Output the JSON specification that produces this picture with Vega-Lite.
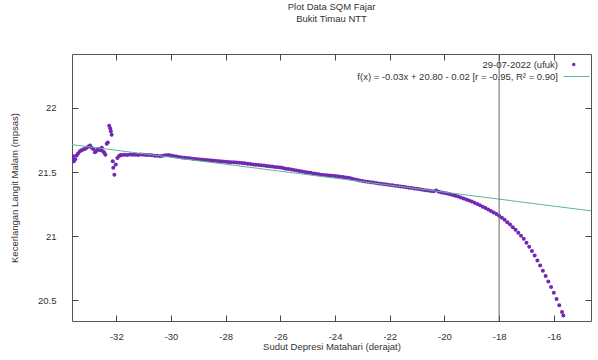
{
  "$schema": "https://vega.github.io/schema/vega-lite/v6.json",
  "width": 519,
  "height": 267,
  "autosize": {"type": "none"},
  "padding": {"left": 72, "top": 54, "right": 7, "bottom": 39},
  "background": "white",
  "title": {
    "text": ["Plot Data SQM Fajar", "Bukit Timau NTT"],
    "fontSize": 9.5, "fontWeight": "normal", "font": "Liberation Sans",
    "color": "#333333", "offset": 28, "lineHeight": 12, "anchor": "middle"
  },
  "config": {
    "view": {"stroke": "#555555", "strokeWidth": 1},
    "axis": {
      "grid": false, "domain": false, "ticks": true, "tickColor": "#444444", "tickSize": 6, "tickWidth": 1, "tickOpacity": 1, "offset": -6,
      "labelFont": "Liberation Sans", "labelFontSize": 9.5, "labelColor": "#333333",
      "titleFont": "Liberation Sans", "titleFontSize": 9.5, "titleFontWeight": "normal", "titleColor": "#333333",
      "zindex": 1
    },
    "legend": {
      "orient": "none", "padding": 0, "title": null,
      "labelFont": "Liberation Sans", "labelFontSize": 9.5, "labelColor": "#333333",
      "labelLimit": 400, "labelAlign": "right", "labelOffset": -32,
      "symbolSize": 676, "symbolStrokeWidth": 1, "rowPadding": 0
    }
  },
  "datasets": {
    "sqm": [
      {"x": -33.6, "y": 21.6}, {"x": -33.57, "y": 21.624}, {"x": -33.55, "y": 21.585}, {"x": -33.5, "y": 21.6},
      {"x": -33.45, "y": 21.63}, {"x": -33.4, "y": 21.645}, {"x": -33.33, "y": 21.663}, {"x": -33.27, "y": 21.67},
      {"x": -33.21, "y": 21.676}, {"x": -33.15, "y": 21.68}, {"x": -33.08, "y": 21.69}, {"x": -33.02, "y": 21.7},
      {"x": -32.96, "y": 21.707}, {"x": -32.9, "y": 21.69}, {"x": -32.84, "y": 21.68}, {"x": -32.78, "y": 21.655},
      {"x": -32.73, "y": 21.665}, {"x": -32.69, "y": 21.676}, {"x": -32.64, "y": 21.68}, {"x": -32.6, "y": 21.67},
      {"x": -32.56, "y": 21.68}, {"x": -32.53, "y": 21.69}, {"x": -32.48, "y": 21.66}, {"x": -32.44, "y": 21.65},
      {"x": -32.4, "y": 21.635}, {"x": -32.35, "y": 21.72}, {"x": -32.31, "y": 21.73}, {"x": -32.26, "y": 21.862},
      {"x": -32.22, "y": 21.84}, {"x": -32.2, "y": 21.818}, {"x": -32.17, "y": 21.79}, {"x": -32.13, "y": 21.585},
      {"x": -32.11, "y": 21.534}, {"x": -32.07, "y": 21.48}, {"x": -32.02, "y": 21.56}, {"x": -31.96, "y": 21.61},
      {"x": -31.9, "y": 21.625}, {"x": -31.86, "y": 21.632},
      {"x": -31.8, "y": 21.633}, {"x": -31.7, "y": 21.636}, {"x": -31.6, "y": 21.634}, {"x": -31.5, "y": 21.637},
      {"x": -31.4, "y": 21.635}, {"x": -31.3, "y": 21.636}, {"x": -31.2, "y": 21.634}, {"x": -31.1, "y": 21.637},
      {"x": -31.0, "y": 21.635}, {"x": -30.9, "y": 21.633}, {"x": -30.8, "y": 21.634}, {"x": -30.7, "y": 21.631},
      {"x": -30.6, "y": 21.628}, {"x": -30.5, "y": 21.627}, {"x": -30.4, "y": 21.624}, {"x": -30.3, "y": 21.628},
      {"x": -30.2, "y": 21.631}, {"x": -30.1, "y": 21.633}, {"x": -30.0, "y": 21.63}, {"x": -29.9, "y": 21.625},
      {"x": -29.8, "y": 21.621}, {"x": -29.7, "y": 21.617}, {"x": -29.6, "y": 21.614}, {"x": -29.5, "y": 21.612},
      {"x": -29.4, "y": 21.609}, {"x": -29.3, "y": 21.607}, {"x": -29.2, "y": 21.604}, {"x": -29.1, "y": 21.602},
      {"x": -29.0, "y": 21.6}, {"x": -28.9, "y": 21.598}, {"x": -28.8, "y": 21.597}, {"x": -28.7, "y": 21.594},
      {"x": -28.6, "y": 21.592}, {"x": -28.5, "y": 21.59}, {"x": -28.4, "y": 21.588}, {"x": -28.3, "y": 21.587},
      {"x": -28.2, "y": 21.584}, {"x": -28.1, "y": 21.582}, {"x": -28.0, "y": 21.58}, {"x": -27.9, "y": 21.578},
      {"x": -27.8, "y": 21.577}, {"x": -27.7, "y": 21.576}, {"x": -27.6, "y": 21.574}, {"x": -27.5, "y": 21.573},
      {"x": -27.4, "y": 21.57}, {"x": -27.3, "y": 21.568}, {"x": -27.2, "y": 21.565}, {"x": -27.1, "y": 21.563},
      {"x": -27.0, "y": 21.56}, {"x": -26.9, "y": 21.558}, {"x": -26.8, "y": 21.556}, {"x": -26.7, "y": 21.553},
      {"x": -26.6, "y": 21.551}, {"x": -26.5, "y": 21.548}, {"x": -26.4, "y": 21.546}, {"x": -26.3, "y": 21.543},
      {"x": -26.2, "y": 21.54}, {"x": -26.1, "y": 21.538}, {"x": -26.0, "y": 21.535}, {"x": -25.9, "y": 21.531},
      {"x": -25.8, "y": 21.527}, {"x": -25.7, "y": 21.524}, {"x": -25.6, "y": 21.52}, {"x": -25.5, "y": 21.516},
      {"x": -25.4, "y": 21.512}, {"x": -25.3, "y": 21.509}, {"x": -25.2, "y": 21.505}, {"x": -25.1, "y": 21.501},
      {"x": -25.0, "y": 21.497}, {"x": -24.9, "y": 21.494}, {"x": -24.8, "y": 21.49}, {"x": -24.7, "y": 21.487},
      {"x": -24.6, "y": 21.483}, {"x": -24.5, "y": 21.48}, {"x": -24.4, "y": 21.478}, {"x": -24.3, "y": 21.476},
      {"x": -24.2, "y": 21.474}, {"x": -24.1, "y": 21.472}, {"x": -24.0, "y": 21.47}, {"x": -23.9, "y": 21.467},
      {"x": -23.8, "y": 21.464}, {"x": -23.7, "y": 21.461}, {"x": -23.6, "y": 21.458}, {"x": -23.5, "y": 21.455},
      {"x": -23.4, "y": 21.45}, {"x": -23.3, "y": 21.445}, {"x": -23.2, "y": 21.44}, {"x": -23.1, "y": 21.435},
      {"x": -23.0, "y": 21.43}, {"x": -22.9, "y": 21.427}, {"x": -22.8, "y": 21.424}, {"x": -22.7, "y": 21.421},
      {"x": -22.6, "y": 21.418}, {"x": -22.5, "y": 21.415}, {"x": -22.4, "y": 21.412}, {"x": -22.3, "y": 21.409},
      {"x": -22.2, "y": 21.406}, {"x": -22.1, "y": 21.403}, {"x": -22.0, "y": 21.4}, {"x": -21.9, "y": 21.397},
      {"x": -21.8, "y": 21.394}, {"x": -21.7, "y": 21.391}, {"x": -21.6, "y": 21.388}, {"x": -21.5, "y": 21.385},
      {"x": -21.4, "y": 21.382}, {"x": -21.3, "y": 21.379}, {"x": -21.2, "y": 21.376}, {"x": -21.1, "y": 21.373},
      {"x": -21.0, "y": 21.37}, {"x": -20.9, "y": 21.366}, {"x": -20.8, "y": 21.363}, {"x": -20.7, "y": 21.359},
      {"x": -20.6, "y": 21.356}, {"x": -20.5, "y": 21.352}, {"x": -20.4, "y": 21.35}, {"x": -20.3, "y": 21.357},
      {"x": -20.2, "y": 21.346}, {"x": -20.1, "y": 21.342}, {"x": -20.0, "y": 21.338}, {"x": -19.9, "y": 21.333},
      {"x": -19.8, "y": 21.327}, {"x": -19.7, "y": 21.321}, {"x": -19.6, "y": 21.316}, {"x": -19.5, "y": 21.31},
      {"x": -19.4, "y": 21.303}, {"x": -19.3, "y": 21.295}, {"x": -19.2, "y": 21.287}, {"x": -19.1, "y": 21.279},
      {"x": -19.0, "y": 21.27}, {"x": -18.9, "y": 21.261}, {"x": -18.8, "y": 21.251}, {"x": -18.7, "y": 21.241},
      {"x": -18.6, "y": 21.231}, {"x": -18.5, "y": 21.22}, {"x": -18.4, "y": 21.209}, {"x": -18.3, "y": 21.197},
      {"x": -18.2, "y": 21.185}, {"x": -18.1, "y": 21.173}, {"x": -18.0, "y": 21.16}, {"x": -17.9, "y": 21.144},
      {"x": -17.8, "y": 21.128}, {"x": -17.7, "y": 21.11}, {"x": -17.6, "y": 21.091}, {"x": -17.5, "y": 21.07},
      {"x": -17.4, "y": 21.05}, {"x": -17.3, "y": 21.028}, {"x": -17.2, "y": 21.005}, {"x": -17.1, "y": 20.98},
      {"x": -17.0, "y": 20.95}, {"x": -16.9, "y": 20.918}, {"x": -16.8, "y": 20.885}, {"x": -16.7, "y": 20.85},
      {"x": -16.6, "y": 20.812}, {"x": -16.5, "y": 20.772}, {"x": -16.4, "y": 20.732}, {"x": -16.3, "y": 20.69},
      {"x": -16.2, "y": 20.648}, {"x": -16.1, "y": 20.605}, {"x": -16.0, "y": 20.56}, {"x": -15.9, "y": 20.512},
      {"x": -15.8, "y": 20.462}, {"x": -15.7, "y": 20.41}, {"x": -15.65, "y": 20.382}
    ],
    "fit": [
      {"x": -33.62, "y": 21.714},
      {"x": -14.64, "y": 21.198}
    ],
    "ref": [{"x": -18}]
  },
  "layer": [
    {
      "data": {"name": "sqm"},
      "mark": {"type": "point", "filled": true, "size": 16, "opacity": 1, "clip": true},
      "encoding": {
        "x": {
          "field": "x", "type": "quantitative",
          "scale": {"domain": [-33.62, -14.64], "nice": false, "zero": false},
          "axis": {
            "orient": "bottom", "values": [-32, -30, -28, -26, -24, -22, -20, -18, -16],
            "labelExpr": "'' + datum.value", "labelPadding": 10,
            "title": "Sudut Depresi Matahari (derajat)", "titlePadding": 1
          }
        },
        "y": {
          "field": "y", "type": "quantitative",
          "scale": {"domain": [20.34, 22.42], "nice": false, "zero": false},
          "axis": {
            "orient": "left", "values": [20.5, 21, 21.5, 22],
            "labelExpr": "'' + datum.value", "labelPadding": 16,
            "title": "Kecerlangan Langit Malam (mpsas)", "titlePadding": 18
          }
        },
        "color": {
          "datum": "29-07-2022 (ufuk)",
          "type": "nominal",
          "scale": {"range": ["#7228b4"]},
          "legend": {
            "legendX": 491, "legendY": -3,
            "symbolType": "M-0.34,0A0.13,0.13,0,1,0,-0.08,0A0.13,0.13,0,1,0,-0.34,0Z"
          }
        }
      }
    },
    {
      "data": {"name": "fit"},
      "mark": {"type": "line", "strokeWidth": 1, "clip": true},
      "encoding": {
        "x": {
          "field": "x", "type": "quantitative",
          "axis": {
            "orient": "top", "values": [-32, -30, -28, -26, -24, -22, -20, -18, -16],
            "labels": false, "title": null
          }
        },
        "y": {
          "field": "y", "type": "quantitative",
          "axis": {
            "orient": "right", "values": [20.5, 21, 21.5, 22],
            "labels": false, "title": null
          }
        },
        "stroke": {
          "datum": "f(x) = -0.03x + 20.80 - 0.02 [r = -0.95, R² = 0.90]",
          "type": "nominal",
          "scale": {"range": ["#5fb59a"]},
          "legend": {"symbolType": "stroke", "legendX": 491, "legendY": 9}
        }
      }
    },
    {
      "data": {"name": "ref"},
      "mark": {"type": "rule", "color": "#666666", "strokeWidth": 1},
      "encoding": {
        "x": {"field": "x", "type": "quantitative", "axis": null}
      }
    }
  ],
  "resolve": {"axis": {"x": "independent", "y": "independent"}}
}
